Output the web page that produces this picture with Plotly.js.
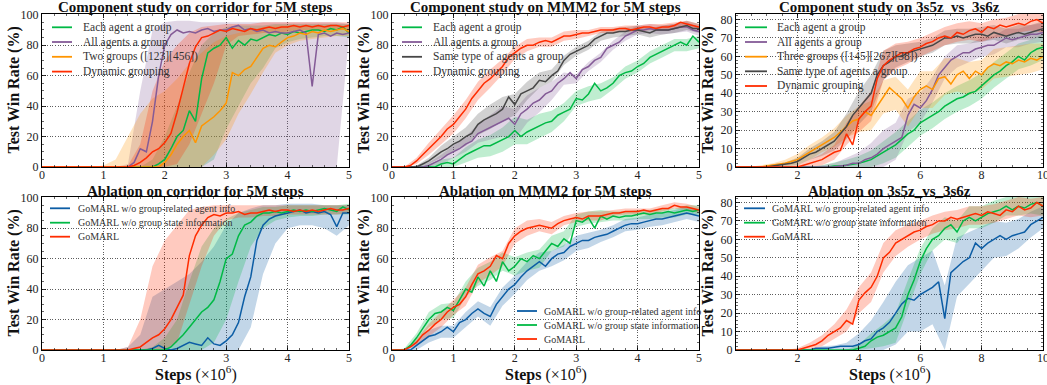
<!DOCTYPE html>
<html><head><meta charset="utf-8">
<script src="https://cdn.plot.ly/plotly-3.0.1.min.js"></script>
<style>html,body{margin:0;padding:0;background:#fff}#chart{width:1047px;height:385px}</style>
</head><body><div id="chart"></div>
<script>
// ---------------- DATA ----------------
// 5M-step panels: x = 0..5 step 0.1 (51 pts); bands step 0.2 (26 pts)
// 10M-step panels: x = 0..10 step 0.2 (51 pts); bands step 0.4 (26 pts)
const stepLine5 = 0.1, stepBand5 = 0.2, stepLine10 = 0.2, stepBand10 = 0.4;
const ticks5 = [0,1,2,3,4,5], ticks10 = [2,4,6,8,10];

// Panel 1: Component study on corridor
const p1Names = ['Each agent a group', 'All agents a group', 'Two groups ([123][456])', 'Dynamic grouping'];
const p1Each = [0,0,0,0,0,0,0,0,0,0,0,0,0,0,0,0,0,0,0,2,5,12,20,24,37,30,58,75,78,80,85,78,83,80,84,83,85,87,86,88,87,89,88,89,90,90,89,91,90,92,88];
const p1All = [0,0,0,0,0,0,0,0,0,0,0,0,0,0,0,3,12,10,30,60,80,87,90,88,89,88,90,91,89,90,90,92,93,90,91,89,90,88,89,88,88,89,90,88,53,87,88,86,88,87,88];
const p1Two = [0,0,0,0,0,0,0,0,0,0,0,0,0,0,0,0,0,0,0,0,3,8,15,20,24,16,27,30,33,37,42,62,60,64,66,72,78,80,79,82,85,86,88,87,89,88,90,89,90,91,89];
const p1Dyn = [0,0,0,0,0,0,0,0,0,0,0,0,0,0,0,1,3,6,10,12,16,22,36,52,68,79,85,86,88,90,89,91,90,89,91,90,91,92,91,92,92,93,92,93,92,93,92,93,93,92,93];
const p1EachLo = [0,0,0,0,0,0,0,0,0,0,0,0,0,0,5,25,40,55,65,78,82,84,85,86,86,85];
const p1EachHi = [0,0,0,0,0,0,0,0,0,5,20,40,62,80,88,92,93,93,93,94,94,94,94,94,94,94];
const p1AllLo = [0,0,0,0,0,0,0,0,0,0,0,0,0,0,0,0,0,0,0,0,0,0,0,0,0,86];
const p1AllHi = [0,0,0,0,0,0,0,2,50,90,95,96,96,95,95,95,95,95,95,95,95,95,95,95,95,94];
const p1TwoLo = [0,0,0,0,0,0,0,0,0,0,0,0,0,0,8,18,35,48,62,75,80,83,84,85,86,86];
const p1TwoHi = [0,0,0,0,0,1,5,20,35,45,50,58,68,75,82,86,88,90,92,93,93,93,93,93,93,93];
const p1DynLo = [0,0,0,0,0,0,0,0,0,0,0,2,15,35,55,80,86,87,88,88,89,90,90,90,90,90];
const p1DynHi = [0,0,0,0,0,0,0,1,15,50,70,80,88,92,93,94,94,94,95,95,95,95,95,95,95,95];

// Panel 2: Component study on MMM2
const p2Names = ['Each agent a group', 'All agents a group', 'Same type of agents a group', 'Dynamic grouping'];
const p2Each = [0,0,0,0,0,0,0,0,2,3,2,5,8,10,12,14,14,16,18,20,24,20,23,25,27,29,30,34,36,38,45,44,48,55,50,52,55,60,62,63,66,68,72,74,76,78,80,82,80,86,82];
const p2All = [0,0,0,0,0,0,1,3,5,8,10,12,15,17,22,24,26,28,30,32,28,35,38,42,44,48,50,55,58,62,58,64,66,70,72,78,80,82,86,88,90,90,91,90,90,90,91,92,92,90,89];
const p2Same = [0,0,0,0,0,2,4,7,10,12,15,17,20,22,28,31,33,35,38,46,41,48,50,52,57,56,60,63,70,74,76,78,80,84,86,88,88,89,89,90,90,89,88,90,90,90,91,92,93,91,91];
const p2Dyn = [0,0,0,1,4,8,12,16,20,25,28,33,38,45,50,55,58,62,66,72,75,78,80,80,82,83,82,84,86,86,87,88,88,89,90,90,90,91,91,90,91,92,92,91,92,92,93,95,94,93,92];
const p2EachSd = [0,0,0,2,3,4,5,6,7,8,9,8,8,7,6,5,5,5,4,4,4,4,4,4,4,4];
const p2AllSd = [0,0,1,2,3,4,5,6,8,10,10,9,8,6,4,3,3,3,3,3,3,3,3,3,3,3];
const p2SameSd = [0,0,1,2,4,5,6,7,8,8,7,6,5,4,3,3,3,3,3,3,3,3,3,3,3,3];
const p2DynSd = [0,0,2,4,5,6,6,6,6,5,4,4,3,3,3,3,2,2,2,2,2,2,2,2,2,2];

// Panel 3: Component study on 3s5z_vs_3s6z
const p3Names = ['Each agent a group', 'All agents a group', 'Three groups ([145][267][38])', 'Same type of agents a group', 'Dynamic grouping'];
const p3Each = [0,0,0,0,0,0,0,0,0,0,0,0,0,0,0,0,0.5,0.5,1,1.5,2,3,4,6,8,10,12,15,18,20,24,26,28,30,33,35,37,38,40,41,44,47,50,52,55,57,60,58,62,64,65];
const p3All = [0,0,0,0,0,0,0,0,0,0,0,0,0,0,0,0,0,0.5,1,2,2,4,5,7,10,12,14,16,28,34,32,36,42,50,54,58,60,62,62,64,65,66,66,68,70,69,70,71,72,72,73];
const p3Three = [0,0,0,0,0,0.5,1,1.5,2,3,4,6,8,10,12,14,16,19,22,25,26,30,28,33,38,43,40,37,32,38,42,44,42,48,49,45,50,52,48,52,50,54,56,55,57,56,58,57,59,58,60];
const p3Same = [0,0,0,0,0,0,0.5,1,1.5,2,3,5,7,8,10,12,14,18,22,28,32,36,40,50,55,57,60,60,62,63,64,65,66,68,70,70,71,70,71,72,72,71,73,72,71,72,73,72,73,74,75];
const p3Dyn = [0,0,0,0,0,0,0,0,0,0,0,1,2,3,4,6,8,9,18,12,26,30,33,48,55,58,60,62,62,64,65,67,68,70,71,70,73,72,74,75,73,76,75,77,76,77,78,77,79,80,78];
const p3EachSd = [0,0,0,0,0,0,0,1,2,3,4,5,6,7,7,7,7,7,7,7,7,7,7,7,7,7];
const p3AllSd = [0,0,0,0,0,0,0,1,2,4,6,8,10,10,9,8,7,6,6,5,5,5,5,5,5,5];
const p3ThreeSd = [0,0,1,1,2,3,4,4,5,6,7,8,9,9,10,10,10,10,9,9,8,8,8,8,8,7];
const p3SameSd = [0,0,0,1,1,2,3,4,5,7,9,10,8,6,5,4,4,4,4,4,4,4,4,4,4,4];
const p3DynSd = [0,0,0,0,0,1,2,3,4,6,7,8,8,7,6,5,5,5,5,5,5,5,5,5,5,5];

// Ablation legends
const abNames = ['GoMARL w/o group-related agent info', 'GoMARL w/o group state information', 'GoMARL'];

// Panel 4: Ablation on corridor
const p4Agent = [0,0,0,0,0,0,0,0,0,0,0,0,0,0,0,0,0,0,1,3,1,0,1,3,5,4,3,8,4,3,6,10,18,35,48,72,82,86,88,89,90,91,92,90,91,90,91,89,81,90,90];
const p4State = [0,0,0,0,0,0,0,0,0,0,0,0,0,0,0,0,0,0,0,0,0,2,6,10,15,20,25,28,33,45,60,63,75,82,84,88,90,90,91,90,91,92,91,92,91,92,93,92,91,94,92];
const p4Go = [0,0,0,0,0,0,0,0,0,0,0,0,0,0,0,1,2,5,8,10,14,20,28,36,62,75,82,87,89,88,90,90,91,89,90,90,91,92,91,92,92,91,92,91,92,91,92,93,92,92,93];
const p4AgentLo = [0,0,0,0,0,0,0,0,0,0,0,0,0,0,0,0,0,15,50,70,80,82,82,80,75,82];
const p4AgentHi = [0,0,0,0,0,0,0,2,10,35,40,45,50,58,68,82,90,93,95,95,96,96,96,95,95,95];
const p4StateLo = [0,0,0,0,0,0,0,0,0,0,0,0,0,0,5,20,45,68,80,85,87,88,88,89,89,89];
const p4StateHi = [0,0,0,0,0,0,0,0,0,2,8,20,45,68,80,86,90,92,94,94,95,95,95,95,95,96];
const p4GoLo = [0,0,0,0,0,0,0,0,0,0,0,5,30,55,75,85,87,87,88,88,89,89,89,89,89,90];
const p4GoHi = [0,0,0,0,0,0,0,2,20,55,72,82,92,94,95,95,95,95,95,95,95,95,95,95,95,95];

// Panel 5: Ablation on MMM2
const p5Agent = [0,0,0,0,3,6,9,10,12,15,12,18,20,24,27,24,22,30,35,40,43,48,52,55,58,55,60,63,64,68,70,72,72,74,75,76,78,80,82,83,83,84,85,86,86,87,88,89,90,89,88];
const p5State = [0,0,0,3,8,14,20,24,25,28,26,33,40,38,48,42,52,45,58,52,55,60,58,62,60,65,70,68,73,70,85,84,87,80,88,86,88,87,88,88,89,90,89,90,90,91,90,91,92,91,92];
const p5Go = [0,0,0,2,5,10,13,17,20,25,28,30,35,43,50,52,55,62,60,70,75,78,80,81,82,81,80,83,85,86,87,86,88,88,88,89,90,90,91,91,91,92,91,92,93,93,95,94,94,93,92];
const p5AgentSd = [0,0,3,4,4,4,5,5,6,6,6,6,6,5,5,5,5,4,4,4,4,4,4,4,4,4];
const p5StateSd = [0,1,3,5,5,5,5,6,6,6,6,6,6,5,5,4,4,4,3,3,3,3,3,3,3,3];
const p5GoSd = [0,0,2,4,5,5,6,6,6,5,5,5,4,4,3,3,3,3,2,2,2,2,2,2,2,2];

// Panel 6: Ablation on 3s5z_vs_3s6z
const p6Agent = [0,0,0,0,0,0,0,0,0,0,0,0,0,1,1,1,1.5,2,2,2,3,5,6,10,12,15,20,25,28,27,30,32,34,37,17,42,45,48,50,58,55,58,60,62,60,62,63,64,68,70,72];
const p6State = [0,0,0,0,0,0,0,0,0,0,0,0,0,0,0,0,0,0,0,0,1,2,5,7,8,10,12,18,30,38,48,55,60,62,66,68,64,70,72,70,72,74,75,76,78,76,78,77,79,80,78];
const p6Go = [0,0,0,0,0,0,0,0,0,0,0,1,2,3,5,8,10,12,16,14,27,31,34,40,50,53,58,60,62,64,65,67,68,70,70,72,71,72,73,74,73,75,74,73,76,75,78,76,77,80,78];
const p6AgentSd = [0,0,0,0,0,0,0,1,1,2,6,10,14,17,18,20,20,18,16,14,12,10,9,8,7,6];
const p6StateSd = [0,0,0,0,0,0,0,0,0,0,2,4,6,8,8,7,6,6,6,6,6,6,5,5,5,5];
const p6GoSd = [0,0,0,0,0,1,2,3,4,6,7,8,8,7,6,5,5,5,5,5,5,5,5,5,5,5];

// ---------------- STYLE / LAYOUT ----------------
const W = 1047, H = 385;
const FONT = 'Liberation Serif, Times New Roman, serif';
const COL = {green:'#00B945', purple:'#845B97', orange:'#FF9500', red:'#FF2C00', gray:'#474747', blue:'#0C5DA5'};
function rgba(hex, a){const n=parseInt(hex.slice(1),16);return `rgba(${n>>16},${(n>>8)&255},${n&255},${a})`;}
function grid(n, step){const a=[];for(let i=0;i<n;i++)a.push(+(i*step).toFixed(3));return a;}
function fromSd(y, sd, ratio, sign){return sd.map((s,j)=>Math.max(0, y[j*ratio] + sign*s));}
const px = x => x / W, py = y => 1 - y / H;

// plot-area pixel boxes
const cols = [[42,349],[392,699],[736,1043]];
const rows = [[14,167],[197,350]];

const panels = [
  {title:'Component study on corridor for 5M steps', c:0, r:0, long:false, ymax:100.5,
   legend:{x0:52, x1:72, tx:81, ys:[27.3,42,56.8,71.6], size:11.5},
   series:[
    {name:p1Names[0], color:COL.green, y:p1Each, lo:p1EachLo, hi:p1EachHi},
    {name:p1Names[1], color:COL.purple, y:p1All, lo:p1AllLo, hi:p1AllHi},
    {name:p1Names[2], color:COL.orange, y:p1Two, lo:p1TwoLo, hi:p1TwoHi},
    {name:p1Names[3], color:COL.red, y:p1Dyn, lo:p1DynLo, hi:p1DynHi}]},
  {title:'Component study on MMM2 for 5M steps', c:1, r:0, long:false, ymax:100.5,
   legend:{x0:402, x1:422, tx:431, ys:[27.3,42,56.8,71.6], size:11.5},
   series:[
    {name:p2Names[0], color:COL.green, y:p2Each, sd:p2EachSd},
    {name:p2Names[1], color:COL.purple, y:p2All, sd:p2AllSd},
    {name:p2Names[2], color:COL.gray, y:p2Same, sd:p2SameSd},
    {name:p2Names[3], color:COL.red, y:p2Dyn, sd:p2DynSd}]},
  {title:'Component study on 3s5z_vs_3s6z', c:2, r:0, long:true, ymax:83,
   legend:{x0:745, x1:767, tx:775, ys:[27.3,42,56.7,71.3,86], size:11.5},
   series:[
    {name:p3Names[0], color:COL.green, y:p3Each, sd:p3EachSd},
    {name:p3Names[1], color:COL.purple, y:p3All, sd:p3AllSd},
    {name:p3Names[2], color:COL.orange, y:p3Three, sd:p3ThreeSd},
    {name:p3Names[3], color:COL.gray, y:p3Same, sd:p3SameSd},
    {name:p3Names[4], color:COL.red, y:p3Dyn, sd:p3DynSd}]},
  {title:'Ablation on corridor for 5M steps', c:0, r:1, long:false, ymax:100.5,
   legend:{x0:50, x1:70, tx:76, ys:[208.3,222.7,236.7], size:10},
   series:[
    {name:abNames[0], color:COL.blue, y:p4Agent, lo:p4AgentLo, hi:p4AgentHi},
    {name:abNames[1], color:COL.green, y:p4State, lo:p4StateLo, hi:p4StateHi},
    {name:abNames[2], color:COL.red, y:p4Go, lo:p4GoLo, hi:p4GoHi}]},
  {title:'Ablation on MMM2 for 5M steps', c:1, r:1, long:false, ymax:100.5,
   legend:{x0:517, x1:537, tx:542, ys:[311,325,339], size:10},
   series:[
    {name:abNames[0], color:COL.blue, y:p5Agent, sd:p5AgentSd},
    {name:abNames[1], color:COL.green, y:p5State, sd:p5StateSd},
    {name:abNames[2], color:COL.red, y:p5Go, sd:p5GoSd}]},
  {title:'Ablation on 3s5z_vs_3s6z', c:2, r:1, long:true, ymax:83,
   legend:{x0:744, x1:765, tx:770, ys:[208.3,222.7,236.7], size:10},
   series:[
    {name:abNames[0], color:COL.blue, y:p6Agent, sd:p6AgentSd},
    {name:abNames[1], color:COL.green, y:p6State, sd:p6StateSd},
    {name:abNames[2], color:COL.red, y:p6Go, sd:p6GoSd}]}
];

const traces = [];
const layout = {width:W, height:H, margin:{l:0,r:0,t:0,b:0}, paper_bgcolor:'#fff', plot_bgcolor:'#fff',
  showlegend:false, annotations:[], shapes:[], font:{family:FONT}};

panels.forEach((p, k) => {
  const n = k + 1, xa = 'x' + (n===1?'':n), ya = 'y' + (n===1?'':n);
  const xs = p.long ? grid(51, stepLine10) : grid(51, stepLine5);
  const bx = p.long ? grid(26, stepBand10) : grid(26, stepBand5);
  // bands first
  p.series.forEach(s => {
    const lo = s.lo || fromSd(s.y, s.sd, 2, -1);
    const hi = s.hi || fromSd(s.y, s.sd, 2, 1);
    traces.push({x:bx, y:lo, xaxis:xa, yaxis:ya, type:'scatter', mode:'lines', line:{width:0, color:s.color}, hoverinfo:'skip'});
    traces.push({x:bx, y:hi, xaxis:xa, yaxis:ya, type:'scatter', mode:'lines', line:{width:0, color:s.color}, fill:'tonexty', fillcolor:rgba(s.color,0.25), hoverinfo:'skip'});
  });
  p.series.forEach(s => {
    traces.push({x:xs, y:s.y, xaxis:xa, yaxis:ya, type:'scatter', mode:'lines', name:s.name, line:{width:1.5, color:s.color}});
  });
  const [cx0, cx1] = cols[p.c], [ry0, ry1] = rows[p.r];
  const common = {showline:true, linecolor:'#000', linewidth:1, mirror:'ticks', ticks:'inside', ticklen:4, tickwidth:0.8,
    tickcolor:'#000', showgrid:true, gridcolor:'#333', griddash:'1px,1.6px', gridwidth:0.8, zeroline:false,
    tickfont:{family:FONT, size:12, color:'#222'}, fixedrange:true, ticklabeloverflow:'allow'};
  layout['xaxis' + (n===1?'':n)] = Object.assign({}, common, {
    domain:[px(cx0), px(cx1)], anchor:ya, range:[0, p.long?10:5],
    tickmode:'array', tickvals: p.long ? ticks10 : ticks5, ticklabelstandoff:-3,
    minor:{tickmode:'linear', tick0:0, dtick:p.long?0.5:0.2, ticks:'inside', ticklen:2, tickcolor:'#000', tickwidth:0.6, showgrid:false}});
  layout['yaxis' + (n===1?'':n)] = Object.assign({}, common, {
    domain:[py(ry1), py(ry0)], anchor:xa, range:[0, p.ymax],
    tickmode:'linear', tick0:0, dtick:p.long?10:20,
    minor:{tickmode:'linear', tick0:0, dtick:p.long?2:5, ticks:'inside', ticklen:2, tickcolor:'#000', tickwidth:0.6, showgrid:false}});
  const cxm = (cx0 + cx1) / 2;
  // panel title
  layout.annotations.push({text:'<b>' + p.title + '</b>', xref:'paper', yref:'paper', x:px(cxm), y:py(ry0 - 6.5),
    xanchor:'center', yanchor:'middle', showarrow:false, font:{family:FONT, size:15, color:'#111'}});
  // y title
  layout.annotations.push({text:'<b>Test Win Rate (%)</b>', xref:'paper', yref:'paper', x:px(cx0 - 29), y:py((ry0+ry1)/2),
    xanchor:'center', yanchor:'middle', textangle:-90, showarrow:false, font:{family:FONT, size:16, color:'#111'}});
  if (p.r === 1) {
    layout.annotations.push({text:'<b>Steps</b> (×10<sup>6</sup>)', xref:'paper', yref:'paper', x:px(cxm), y:py(373),
      xanchor:'center', yanchor:'middle', showarrow:false, font:{family:FONT, size:16, color:'#111'}});
  }
  // legend (drawn manually)
  p.series.forEach((s, i) => {
    const yy = p.legend.ys[i];
    layout.shapes.push({type:'line', xref:'paper', yref:'paper', x0:px(p.legend.x0), x1:px(p.legend.x1), y0:py(yy), y1:py(yy),
      line:{color:s.color, width:1.8}});
    layout.annotations.push({text:s.name, xref:'paper', yref:'paper', x:px(p.legend.tx), y:py(yy), xanchor:'left', yanchor:'middle',
      showarrow:false, font:{family:FONT, size:p.legend.size, color:'#333'}});
  });
});

Plotly.newPlot('chart', traces, layout, {displayModeBar:false, staticPlot:true});
</script></body></html>
